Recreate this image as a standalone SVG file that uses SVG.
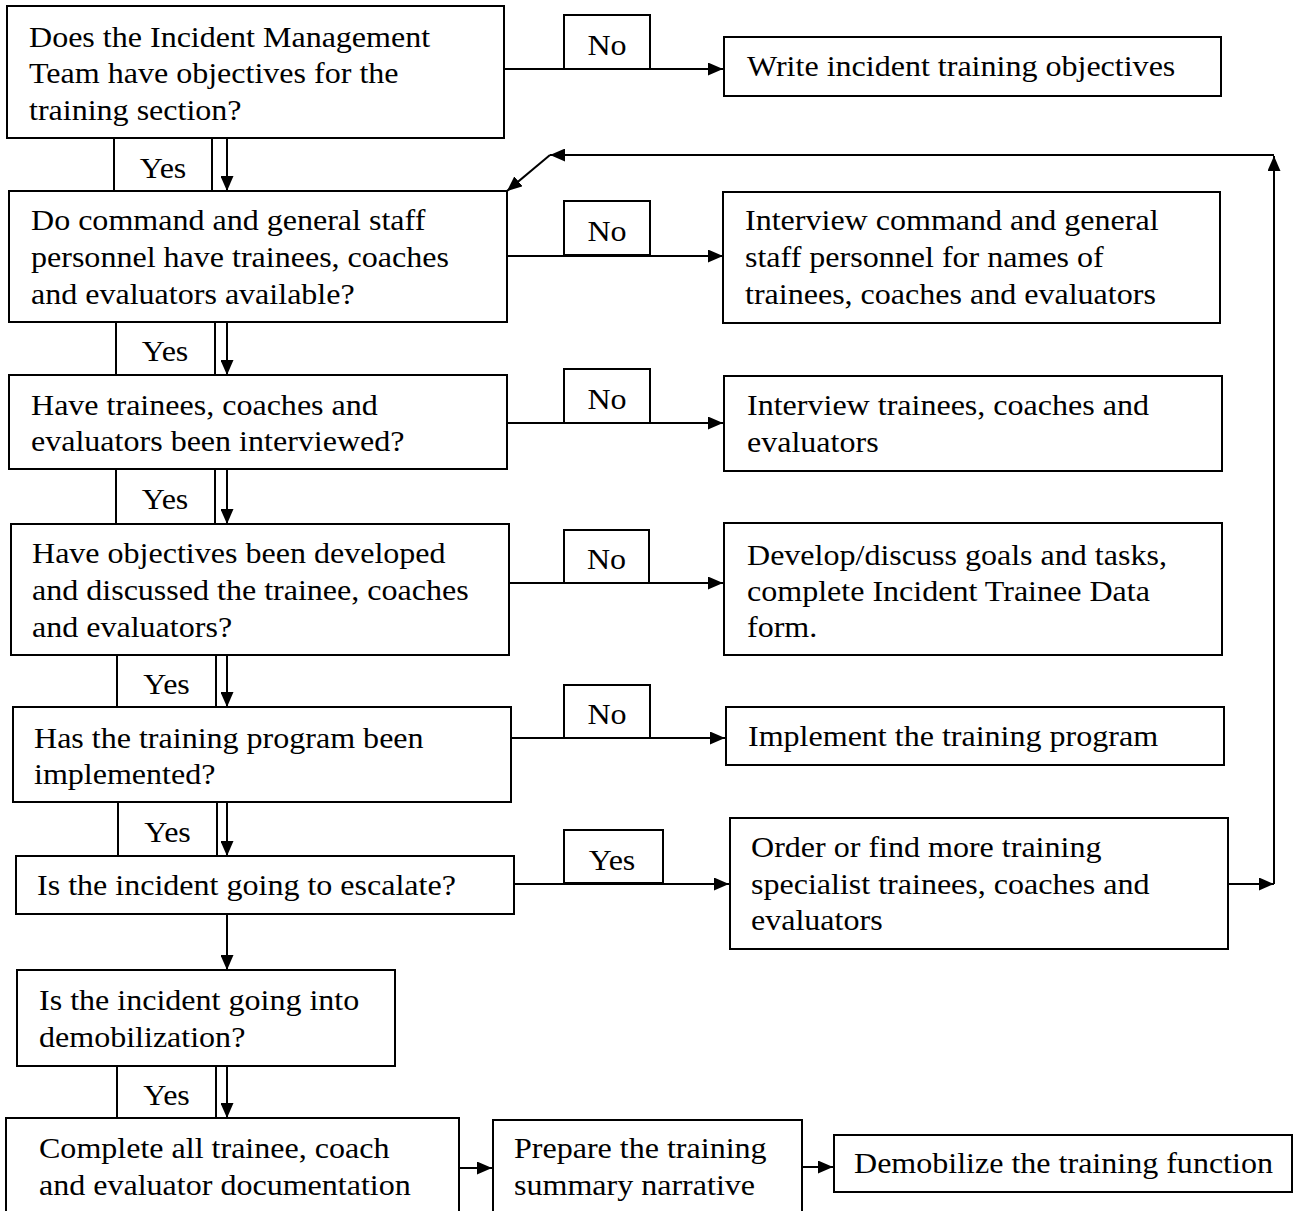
<svg xmlns="http://www.w3.org/2000/svg" width="1294" height="1211" viewBox="0 0 1294 1211">
<style>
.b{fill:#fff;stroke:#000;stroke-width:2}
.l{fill:#fff;stroke:#000;stroke-width:2}
.c{fill:none;stroke:#000;stroke-width:2}
.t{font-family:"Liberation Serif","Times New Roman",serif;font-size:29px;fill:#000}
.m{text-anchor:middle}
</style>
<defs>
<marker id="ah" viewBox="0 0 15 13" refX="15" refY="6.5" markerWidth="15" markerHeight="13" markerUnits="userSpaceOnUse" orient="auto">
<path d="M0,0 L15,6.5 L0,13 Z" fill="#000"/>
</marker>
</defs>
<rect width="1294" height="1211" fill="#fff"/>

<g id="connectors">
<line class="c" x1="504" y1="69" x2="723" y2="69" marker-end="url(#ah)"/>
<line class="c" x1="227" y1="138" x2="227" y2="191" marker-end="url(#ah)"/>
<line class="c" x1="507" y1="256" x2="723" y2="256" marker-end="url(#ah)"/>
<line class="c" x1="227" y1="323" x2="227" y2="375" marker-end="url(#ah)"/>
<line class="c" x1="507" y1="423" x2="723" y2="423" marker-end="url(#ah)"/>
<line class="c" x1="227" y1="469" x2="227" y2="524" marker-end="url(#ah)"/>
<line class="c" x1="509" y1="583" x2="723" y2="583" marker-end="url(#ah)"/>
<line class="c" x1="227" y1="655" x2="227" y2="707" marker-end="url(#ah)"/>
<line class="c" x1="511" y1="738" x2="725" y2="738" marker-end="url(#ah)"/>
<line class="c" x1="227" y1="802" x2="227" y2="856" marker-end="url(#ah)"/>
<line class="c" x1="514" y1="884" x2="729" y2="884" marker-end="url(#ah)"/>
<line class="c" x1="227" y1="914" x2="227" y2="970" marker-end="url(#ah)"/>
<line class="c" x1="227" y1="1066" x2="227" y2="1118" marker-end="url(#ah)"/>
<line class="c" x1="459" y1="1168" x2="492" y2="1168" marker-end="url(#ah)"/>
<line class="c" x1="802" y1="1167" x2="833" y2="1167" marker-end="url(#ah)"/>
<line class="c" x1="1228" y1="884" x2="1274" y2="884" marker-end="url(#ah)"/>
<line class="c" x1="1274" y1="884" x2="1274" y2="156" marker-end="url(#ah)"/>
<line class="c" x1="1274" y1="155" x2="550" y2="155" marker-end="url(#ah)"/>
<line class="c" x1="550" y1="155" x2="507" y2="191" marker-end="url(#ah)"/>
</g>

<g id="q1">
<rect class="b" x="7" y="6" width="497" height="132"/>
<text class="t" transform="translate(29 0) scale(1.105 1)"><tspan x="0" y="47">Does the Incident Management</tspan><tspan x="0" y="83.5">Team have objectives for the</tspan><tspan x="0" y="120">training section?</tspan></text>
</g>
<g id="no1">
<rect class="l" x="564" y="15" width="86" height="54"/>
<text class="t m" transform="translate(607 0) scale(1.105 1)"><tspan x="0" y="55">No</tspan></text>
</g>
<g id="a1">
<rect class="b" x="724" y="37" width="497" height="59"/>
<text class="t" transform="translate(747 0) scale(1.105 1)"><tspan x="0" y="76">Write incident training objectives</tspan></text>
</g>

<g id="yes1">
<rect class="l" x="114" y="138" width="98" height="53"/>
<text class="t m" transform="translate(163 0) scale(1.105 1)"><tspan x="0" y="178">Yes</tspan></text>
</g>
<g id="q2">
<rect class="b" x="9" y="191" width="498" height="131"/>
<text class="t" transform="translate(31 0) scale(1.105 1)"><tspan x="0" y="230">Do command and general staff</tspan><tspan x="0" y="267">personnel have trainees, coaches</tspan><tspan x="0" y="304">and evaluators available?</tspan></text>
</g>
<g id="no2">
<rect class="l" x="564" y="201" width="86" height="54"/>
<text class="t m" transform="translate(607 0) scale(1.105 1)"><tspan x="0" y="241">No</tspan></text>
</g>
<g id="a2">
<rect class="b" x="723" y="192" width="497" height="131"/>
<text class="t" transform="translate(745 0) scale(1.105 1)"><tspan x="0" y="230">Interview command and general</tspan><tspan x="0" y="267">staff personnel for names of</tspan><tspan x="0" y="304">trainees, coaches and evaluators</tspan></text>
</g>

<g id="yes2">
<rect class="l" x="116" y="322" width="99" height="53"/>
<text class="t m" transform="translate(165 0) scale(1.105 1)"><tspan x="0" y="361">Yes</tspan></text>
</g>
<g id="q3">
<rect class="b" x="9" y="375" width="498" height="94"/>
<text class="t" transform="translate(31 0) scale(1.105 1)"><tspan x="0" y="415">Have trainees, coaches and</tspan><tspan x="0" y="451">evaluators been interviewed?</tspan></text>
</g>
<g id="no3">
<rect class="l" x="564" y="369" width="86" height="54"/>
<text class="t m" transform="translate(607 0) scale(1.105 1)"><tspan x="0" y="409">No</tspan></text>
</g>
<g id="a3">
<rect class="b" x="724" y="376" width="498" height="95"/>
<text class="t" transform="translate(747 0) scale(1.105 1)"><tspan x="0" y="415">Interview trainees, coaches and</tspan><tspan x="0" y="452">evaluators</tspan></text>
</g>

<g id="yes3">
<rect class="l" x="116" y="469" width="99" height="55"/>
<text class="t m" transform="translate(165 0) scale(1.105 1)"><tspan x="0" y="509">Yes</tspan></text>
</g>
<g id="q4">
<rect class="b" x="11" y="524" width="498" height="131"/>
<text class="t" transform="translate(32 0) scale(1.105 1)"><tspan x="0" y="563">Have objectives been developed</tspan><tspan x="0" y="600">and discussed the trainee, coaches</tspan><tspan x="0" y="637">and evaluators?</tspan></text>
</g>
<g id="no4">
<rect class="l" x="564" y="530" width="85" height="53"/>
<text class="t m" transform="translate(606.5 0) scale(1.105 1)"><tspan x="0" y="569">No</tspan></text>
</g>
<g id="a4">
<rect class="b" x="724" y="523" width="498" height="132"/>
<text class="t" transform="translate(747 0) scale(1.105 1)"><tspan x="0" y="565">Develop/discuss goals and tasks,</tspan><tspan x="0" y="601">complete Incident Trainee Data</tspan><tspan x="0" y="637">form.</tspan></text>
</g>

<g id="yes4">
<rect class="l" x="117" y="655" width="99" height="52"/>
<text class="t m" transform="translate(166.5 0) scale(1.105 1)"><tspan x="0" y="694">Yes</tspan></text>
</g>
<g id="q5">
<rect class="b" x="13" y="707" width="498" height="95"/>
<text class="t" transform="translate(34 0) scale(1.105 1)"><tspan x="0" y="748">Has the training program been</tspan><tspan x="0" y="784">implemented?</tspan></text>
</g>
<g id="no5">
<rect class="l" x="564" y="685" width="86" height="53"/>
<text class="t m" transform="translate(607 0) scale(1.105 1)"><tspan x="0" y="724">No</tspan></text>
</g>
<g id="a5">
<rect class="b" x="726" y="707" width="498" height="58"/>
<text class="t" transform="translate(748 0) scale(1.105 1)"><tspan x="0" y="746">Implement the training program</tspan></text>
</g>

<g id="yes5">
<rect class="l" x="118" y="802" width="99" height="54"/>
<text class="t m" transform="translate(167.5 0) scale(1.105 1)"><tspan x="0" y="842">Yes</tspan></text>
</g>
<g id="q6">
<rect class="b" x="16" y="856" width="498" height="58"/>
<text class="t" transform="translate(37 0) scale(1.105 1)"><tspan x="0" y="895">Is the incident going to escalate?</tspan></text>
</g>
<g id="yes6">
<rect class="l" x="564" y="830" width="99" height="53"/>
<text class="t m" transform="translate(612 0) scale(1.105 1)"><tspan x="0" y="870">Yes</tspan></text>
</g>
<g id="a6">
<rect class="b" x="730" y="818" width="498" height="131"/>
<text class="t" transform="translate(751 0) scale(1.105 1)"><tspan x="0" y="857">Order or find more training</tspan><tspan x="0" y="894">specialist trainees, coaches and</tspan><tspan x="0" y="930">evaluators</tspan></text>
</g>

<g id="q7">
<rect class="b" x="17" y="970" width="378" height="96"/>
<text class="t" transform="translate(39 0) scale(1.105 1)"><tspan x="0" y="1010">Is the incident going into</tspan><tspan x="0" y="1047">demobilization?</tspan></text>
</g>
<g id="yes7">
<rect class="l" x="117" y="1066" width="99" height="52"/>
<text class="t m" transform="translate(166.5 0) scale(1.105 1)"><tspan x="0" y="1105">Yes</tspan></text>
</g>
<g id="s1">
<rect class="b" x="6" y="1118" width="453" height="100"/>
<text class="t" transform="translate(39 0) scale(1.105 1)"><tspan x="0" y="1158">Complete all trainee, coach</tspan><tspan x="0" y="1195">and evaluator documentation</tspan></text>
</g>
<g id="s2">
<rect class="b" x="493" y="1120" width="309" height="100"/>
<text class="t" transform="translate(514 0) scale(1.105 1)"><tspan x="0" y="1158">Prepare the training</tspan><tspan x="0" y="1195">summary narrative</tspan></text>
</g>
<g id="s3">
<rect class="b" x="834" y="1135" width="458" height="57"/>
<text class="t" transform="translate(854 0) scale(1.105 1)"><tspan x="0" y="1173">Demobilize the training function</tspan></text>
</g>
</svg>
